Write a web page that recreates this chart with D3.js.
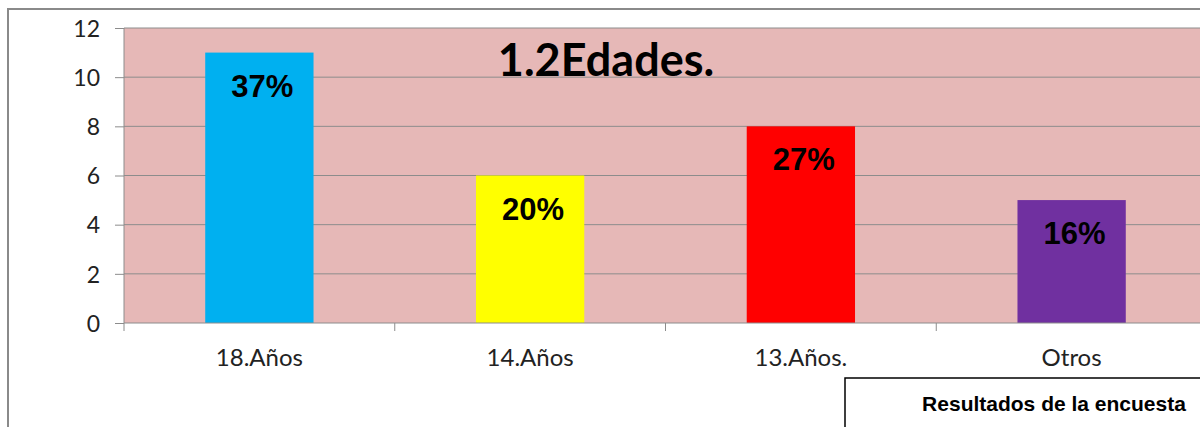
<!DOCTYPE html>
<html lang="es">
<head>
    <meta charset="UTF-8">
    <title>1.2Edades.</title>
    <script type="text/javascript" src="https://cdn.jsdelivr.net/npm/d3@7"></script>
    <style>
        body { margin: 0; background: #fff; }
        svg { display: block; }
        .grid line { stroke: #8c8c8c; stroke-width: 1; }
        .axis text { font-family: Lato, "Open Sans", sans-serif; fill: #222; }
        .axis path, .axis line { stroke: #8c8c8c; }
    </style>
</head>
<body>
<svg width="1200" height="427"></svg>

<script>
    // data
    var categories = ["18.Años", "14.Años", "13.Años.", "Otros"];
    var values = [11, 6, 8, 5];
    var percents = ["37%", "20%", "27%", "16%"];
    var barColors = ["#00b0f0", "#ffff00", "#ff0000", "#7030a0"];
    var yTicks = [0, 2, 4, 6, 8, 10, 12];

    var svg = d3.select("svg");

    var plot = {left: 124, top: 28, bottom: 323, right: 1207};

    var x = d3.scaleBand()
        .domain(categories)
        .range([plot.left, plot.right])
        .paddingInner(0.6)
        .paddingOuter(0.3);

    var y = d3.scaleLinear()
        .domain([0, 12])
        .range([plot.bottom, plot.top]);

    // outer chart frame
    svg.append("rect")
        .attr("x", 8).attr("y", 9)
        .attr("width", 1210).attr("height", 440)
        .attr("fill", "none")
        .attr("stroke", "#8a8a8a")
        .attr("stroke-width", 2);

    // plot background
    svg.append("rect")
        .attr("x", plot.left).attr("y", plot.top)
        .attr("width", plot.right - plot.left)
        .attr("height", plot.bottom - plot.top)
        .attr("fill", "#e6b8b7");

    // gridlines
    svg.append("g").attr("class", "grid")
        .selectAll("line")
        .data(yTicks.filter(function (d) { return d > 0; }))
        .enter().append("line")
        .attr("x1", plot.left).attr("x2", plot.right)
        .attr("y1", function (d) { return y(d); })
        .attr("y2", function (d) { return y(d); });

    // bars
    svg.append("g")
        .selectAll("rect")
        .data(values)
        .enter().append("rect")
        .attr("x", function (d, i) { return x(categories[i]); })
        .attr("y", function (d) { return y(d); })
        .attr("width", x.bandwidth())
        .attr("height", function (d) { return y(0) - y(d); })
        .attr("fill", function (d, i) { return barColors[i]; });

    // y axis
    var yAxis = svg.append("g").attr("class", "axis")
        .attr("transform", "translate(" + plot.left + ",0)")
        .call(d3.axisLeft(y).tickValues(yTicks).tickSize(9).tickPadding(15));
    yAxis.select(".domain").attr("d", "M0," + plot.top + "V" + plot.bottom);
    yAxis.selectAll("text").attr("dy", "0.36em").style("font-size", "23px");

    // x axis, ticks at band boundaries
    var bounds = [plot.left].concat(categories.map(function (c) {
        return x(c) + x.bandwidth() / 2 + x.step() / 2;
    }));
    var xAxisG = svg.append("g").attr("class", "axis");
    xAxisG.append("line")
        .attr("x1", plot.left).attr("x2", plot.right)
        .attr("y1", plot.bottom).attr("y2", plot.bottom);
    xAxisG.selectAll("line.tk")
        .data(bounds)
        .enter().append("line")
        .attr("class", "tk")
        .attr("x1", function (d) { return d; })
        .attr("x2", function (d) { return d; })
        .attr("y1", plot.bottom).attr("y2", plot.bottom + 8);
    xAxisG.selectAll("text")
        .data(categories)
        .enter().append("text")
        .attr("x", function (d) { return x(d) + x.bandwidth() / 2; })
        .attr("y", 366)
        .attr("text-anchor", "middle")
        .style("font-size", "24px")
        .text(function (d) { return d; });

    // percent labels
    svg.append("g")
        .selectAll("text")
        .data(values)
        .enter().append("text")
        .attr("x", function (d, i) { return x(categories[i]) + x.bandwidth() / 2 + 3; })
        .attr("y", function (d) { return y(d) + 44; })
        .attr("text-anchor", "middle")
        .style("font-family", "'Liberation Sans', Arial, sans-serif")
        .style("font-weight", "bold")
        .style("font-size", "31px")
        .attr("fill", "#000")
        .text(function (d, i) { return percents[i]; });

    // title
    svg.append("text")
        .attr("x", 606).attr("y", 76)
        .attr("text-anchor", "middle")
        .style("font-family", "Lato, 'Open Sans', sans-serif")
        .style("font-weight", "bold")
        .style("font-size", "45px")
        .attr("fill", "#000")
        .text("1.2Edades.");

    // legend box
    svg.append("rect")
        .attr("x", 845).attr("y", 378)
        .attr("width", 400).attr("height", 80)
        .attr("fill", "#fff")
        .attr("stroke", "#000")
        .attr("stroke-width", 1.5);
    svg.append("text")
        .attr("x", 1054).attr("y", 411)
        .attr("text-anchor", "middle")
        .style("font-family", "'Liberation Sans', Arial, sans-serif")
        .style("font-weight", "bold")
        .style("font-size", "21px")
        .attr("fill", "#000")
        .text("Resultados de la encuesta");
</script>
</body>
</html>
